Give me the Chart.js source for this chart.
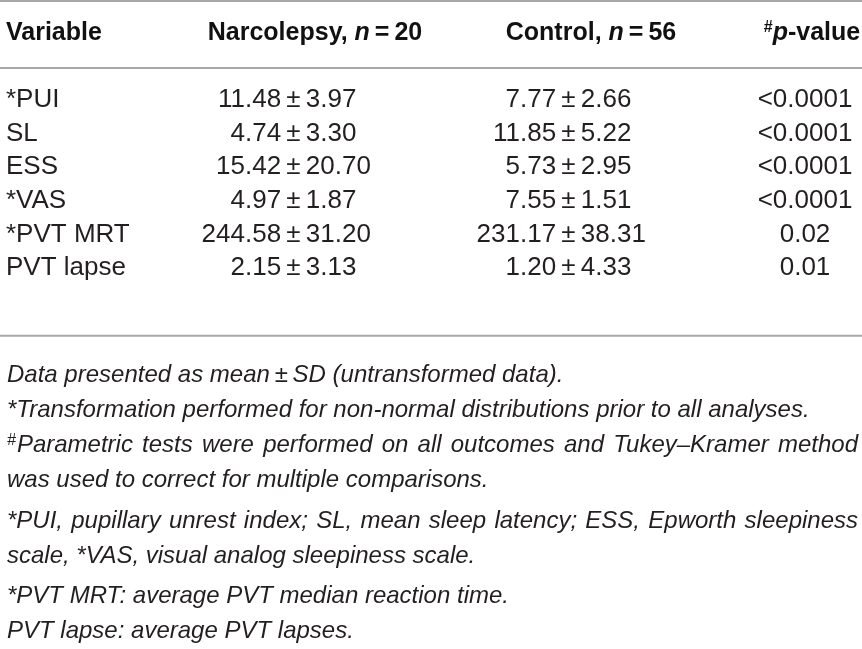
<!DOCTYPE html>
<html lang="en">

<head>
    <meta charset="UTF-8">
    <title>Narcolepsy vs control</title>
    <style>
        body { margin: 0; background: #fff; }
    </style>
</head>

<body>
    <div style="width: 862px; height: 649px;">
        <canvas id="myChart"></canvas>
    </div>

    <script src="https://cdn.jsdelivr.net/npm/chart.js"></script>

    <script>
        // table data
        const variables = ["*PUI", "SL", "ESS", "*VAS", "*PVT MRT", "PVT lapse"];
        const narcMean = [11.48, 4.74, 15.42, 4.97, 244.58, 2.15];
        const narcSd = [3.97, 3.30, 20.70, 1.87, 31.20, 3.13];
        const ctrlMean = [7.77, 11.85, 5.73, 7.55, 231.17, 1.20];
        const ctrlSd = [2.66, 5.22, 2.95, 1.51, 38.31, 4.33];
        const pValues = ["<0.0001", "<0.0001", "<0.0001", "<0.0001", "0.02", "0.01"];

        const notes = [
            "Data presented as mean\u2009\u00b1\u2009SD (untransformed data).",
            "*Transformation performed for non-normal distributions prior to all analyses.",
            "#Parametric tests were performed on all outcomes and Tukey\u2013Kramer method",
            "was used to correct for multiple comparisons.",
            "*PUI, pupillary unrest index; SL, mean sleep latency; ESS, Epworth sleepiness",
            "scale, *VAS, visual analog sleepiness scale.",
            "*PVT MRT: average PVT median reaction time.",
            "PVT lapse: average PVT lapses."
        ];
        const notesJustified = [false, false, true, false, true, false, false, false];

        // layout (x in px, y in row units: data row i sits at y = i)
        const COL_VAR = 6, COL_NARC = 245, COL_CTRL = 520, COL_P = 805;
        const HEAD_NARC = 315, HEAD_CTRL = 591, HEAD_P = 812;
        const ROW_HEAD = -2, RULES = [-2.95, -0.95, 7.02];
        const NOTE_Y = [8.18, 9.23, 10.27, 11.31, 12.53, 13.57, 14.76, 15.8];
        const TEXT = "#231f20";
        const FONT = "'Liberation Sans', Arial, sans-serif";

        const tablePlugin = {
            id: "tablePlugin",
            afterDraw(chart) {
                const ctx = chart.ctx;
                const xs = chart.scales.x, ys = chart.scales.y;
                ctx.save();
                ctx.textBaseline = "middle";

                // rules
                ctx.strokeStyle = "#a8a8a8";
                ctx.lineWidth = 2;
                RULES.forEach(r => {
                    const y = ys.getPixelForValue(r);
                    ctx.beginPath();
                    ctx.moveTo(xs.getPixelForValue(0), y);
                    ctx.lineTo(xs.getPixelForValue(862), y);
                    ctx.stroke();
                });

                // draw a run of [text, font, dy] parts, centred or left
                function runs(parts, x, y, align) {
                    let w = 0;
                    parts.forEach(p => { ctx.font = p[1]; w += ctx.measureText(p[0]).width; });
                    let cx = align === "center" ? x - w / 2 : x;
                    ctx.textAlign = "left";
                    parts.forEach(p => {
                        ctx.font = p[1];
                        ctx.fillText(p[0], cx, y + (p[2] || 0));
                        cx += ctx.measureText(p[0]).width;
                    });
                }

                // header
                const hy = ys.getPixelForValue(ROW_HEAD);
                const B = "bold 25px " + FONT, BI = "italic bold 25px " + FONT;
                ctx.fillStyle = "#111";
                runs([["Variable", B]], xs.getPixelForValue(COL_VAR), hy, "left");
                runs([["Narcolepsy, ", B], ["n", BI], ["\u2009=\u200920", B]],
                    xs.getPixelForValue(HEAD_NARC), hy, "center");
                runs([["Control, ", B], ["n", BI], ["\u2009=\u200956", B]],
                    xs.getPixelForValue(HEAD_CTRL), hy, "center");
                runs([["#", "bold 16px " + FONT, -5], ["p", BI], ["-value", B]],
                    xs.getPixelForValue(HEAD_P), hy, "center");

                // body
                const R = "26px " + FONT;
                ctx.fillStyle = TEXT;
                function meanSd(m, s, anchor, y) {
                    ctx.font = R;
                    const mt = m.toFixed(2);
                    const lead = ctx.measureText(mt.split(".")[0]).width;
                    ctx.textAlign = "left";
                    ctx.fillText(mt + "\u2009\u00b1\u2009" + s.toFixed(2), xs.getPixelForValue(anchor) - lead, y);
                }
                variables.forEach((v, i) => {
                    const y = ys.getPixelForValue(i);
                    ctx.font = R;
                    ctx.textAlign = "left";
                    ctx.fillText(v, xs.getPixelForValue(COL_VAR), y);
                    meanSd(narcMean[i], narcSd[i], COL_NARC, y);
                    meanSd(ctrlMean[i], ctrlSd[i], COL_CTRL, y);
                    ctx.textAlign = "center";
                    ctx.fillText(pValues[i], xs.getPixelForValue(COL_P), y);
                });

                // footnotes
                const I = "italic 24px " + FONT;
                const left = xs.getPixelForValue(7), right = xs.getPixelForValue(858);
                notes.forEach((t, i) => {
                    const y = ys.getPixelForValue(NOTE_Y[i]);
                    let x = left;
                    ctx.textAlign = "left";
                    if (t[0] === "#") {
                        ctx.font = "italic 16px " + FONT;
                        ctx.fillText("#", x, y - 5);
                        x += ctx.measureText("#").width + 1;
                        t = t.slice(1);
                    }
                    ctx.font = I;
                    if (!notesJustified[i]) {
                        ctx.fillText(t, x, y);
                        return;
                    }
                    const words = t.split(" ");
                    let w = 0;
                    words.forEach(s => { w += ctx.measureText(s).width; });
                    const gap = (right - x - w) / (words.length - 1);
                    words.forEach(s => {
                        ctx.fillText(s, x, y);
                        x += ctx.measureText(s).width + gap;
                    });
                });
                ctx.restore();
            }
        };

        const ctx = document.getElementById("myChart");
        new Chart(ctx, {
            type: "scatter",
            data: { datasets: [] },
            options: {
                responsive: true,
                maintainAspectRatio: false,
                animation: false,
                layout: { padding: 0 },
                plugins: { legend: { display: false }, tooltip: { enabled: false } },
                scales: {
                    x: { type: "linear", min: 0, max: 862, display: false },
                    y: { type: "linear", min: -100 / 33.6, max: 549 / 33.6, reverse: true, display: false }
                }
            },
            plugins: [tablePlugin]
        });
    </script>
</body>

</html>
